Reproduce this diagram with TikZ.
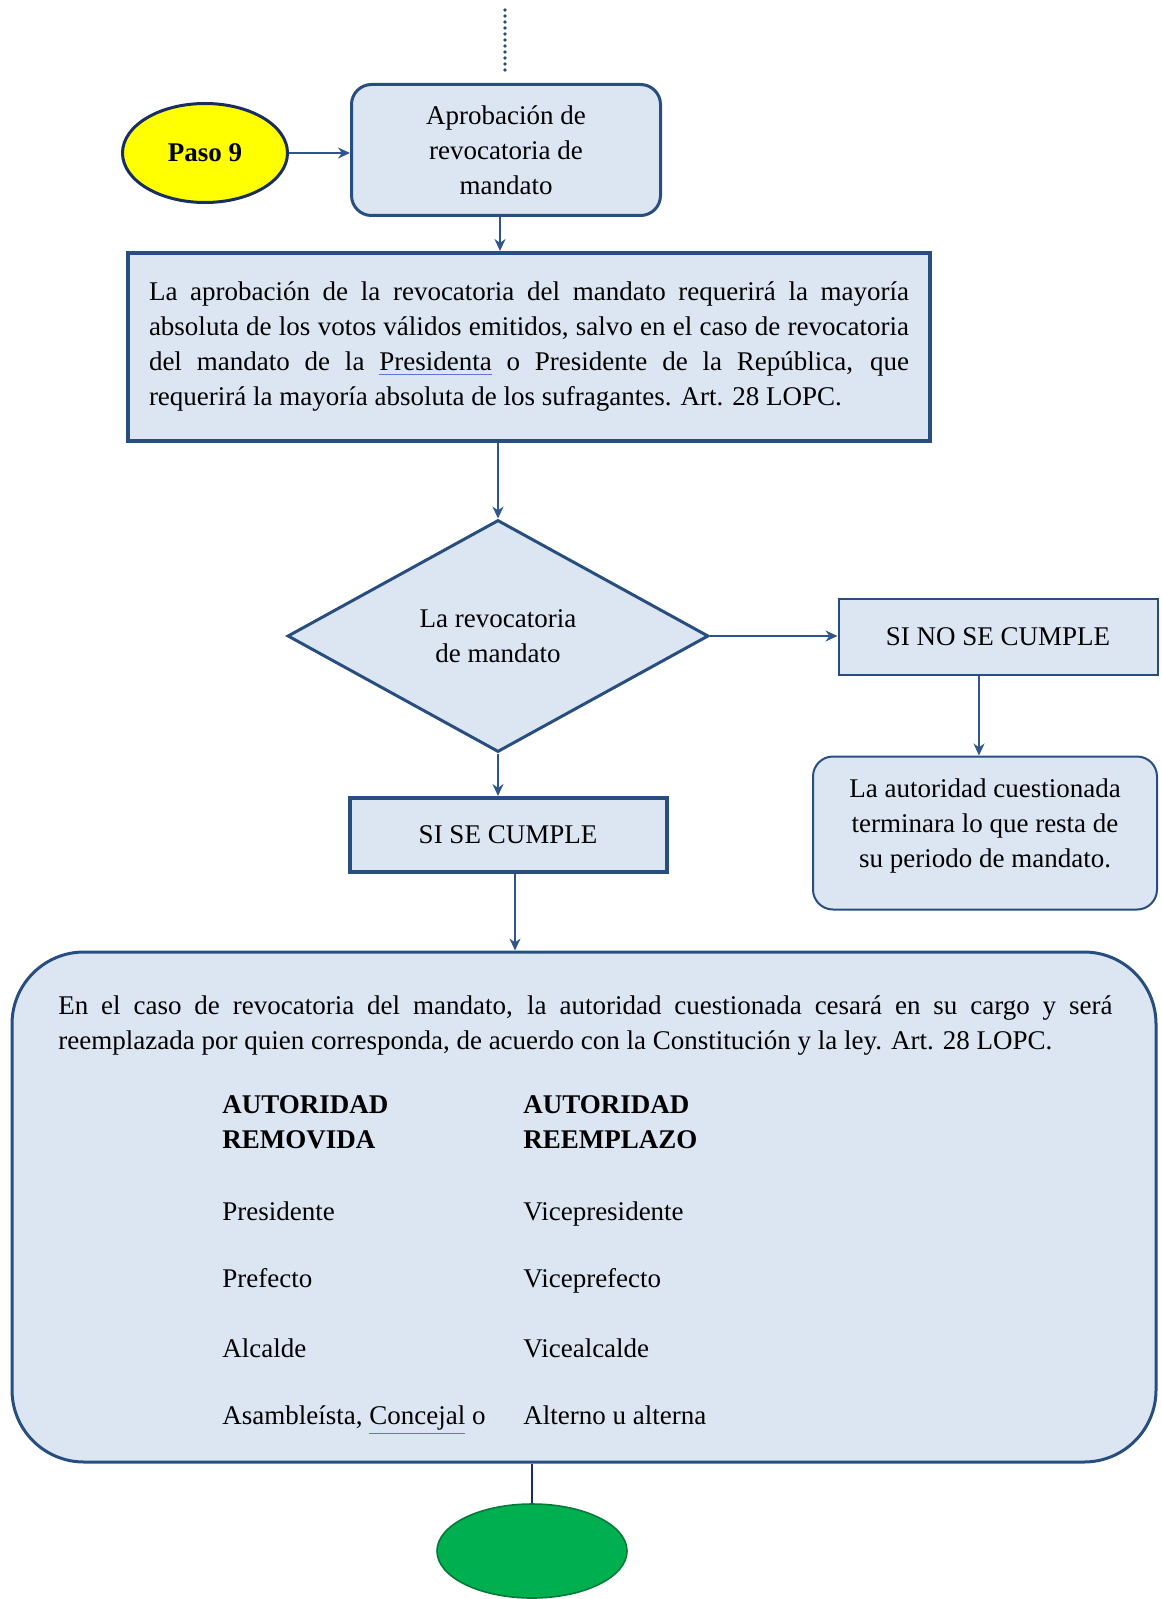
\documentclass[tikz,border=0pt]{standalone}
\usepackage{fontspec}
\setmainfont{Liberation Serif}
\usetikzlibrary{shapes.geometric, arrows.meta}
\definecolor{boxfill}{RGB}{220,230,242}
\definecolor{boxline}{RGB}{40,78,128}
\definecolor{arrowline}{RGB}{47,85,140}
\definecolor{endline}{RGB}{25,45,95}
\definecolor{spellblue}{RGB}{90,120,220}
\definecolor{stepyellow}{RGB}{255,255,0}
\definecolor{endgreen}{RGB}{0,176,80}
\newcommand{\spellmark}[1]{{\color{spellblue}\underline{\textcolor{black}{#1}}}}
\tikzset{
  flowtext/.style={font=\fontsize{13.5}{17.5}\selectfont},
  flowbox/.style={flowtext, draw=boxline, fill=boxfill, line width=1.5pt, align=center, inner sep=0pt},
  flowarrow/.style={draw=arrowline, line width=1.2pt, ->},
  celltext/.style={flowtext, anchor=mid west, inner sep=0pt},
  headtext/.style={flowtext, anchor=west, inner sep=0pt, align=left, font=\fontsize{13.5}{17.5}\selectfont\bfseries}
}
\begin{document}
\begin{tikzpicture}[x=0.5pt, y=-0.5pt, >={Stealth[length=6pt,width=5.5pt]}]
\useasboundingbox (0,0) rectangle (1161,1599);
% top part
\coordinate (dotA) at (505,10);
\coordinate (dotB) at (505,73);
\draw [draw=boxline, line width=1.8pt, line cap=round, dash pattern=on 0pt off 3pt] (dotA) -- (dotB);
\node [flowbox, ellipse, fill=stepyellow, draw=endline, minimum width=82.5pt, minimum height=49.5pt, font=\fontsize{13.5}{17.5}\selectfont\bfseries] (paso) at (205,153) {Paso 9};
\node [flowbox, rounded corners=10pt, minimum width=154.5pt, minimum height=65.5pt] (aprob) at (506,150) {Aprobación de\\revocatoria de\\mandato};
\node [flowbox, line width=2pt, minimum width=401pt, minimum height=94pt, text width=380pt, align=justify] (law) at (529,347) {La aprobación de la revocatoria del mandato requerirá la mayoría\linebreak absoluta de los votos válidos emitidos, salvo en el caso de revocatoria\linebreak del mandato de la \spellmark{Presidenta} o Presidente de la República, que\linebreak requerirá la mayoría absoluta de los sufragantes. Art. 28 LOPC.};
% decision
\node [flowbox, diamond, aspect=1.81, minimum width=210.5pt, minimum height=116pt] (revoca) at (498,636) {La revocatoria\\de mandato};
\node [flowbox, line width=1pt, minimum width=159.5pt, minimum height=38pt] (sino) at (998,637) {SI NO SE CUMPLE};
\node [flowbox, line width=1pt, rounded corners=10pt, minimum width=172pt, minimum height=76.5pt, text depth=10pt] (resta) at (985,833) {La autoridad cuestionada\\terminara lo que resta de\\su periodo de mandato.};
\node [flowbox, line width=2pt, minimum width=158.5pt, minimum height=37pt] (sise) at (508,835) {SI SE CUMPLE};
% replacement box
\node [flowbox, rounded corners=36pt, minimum width=572pt, minimum height=255pt] (cese) at (584,1207) {};
\node [flowtext, anchor=west, inner sep=0pt, text width=527pt, align=justify] (cesetxt) at (58,1026) {En el caso de revocatoria del mandato, la autoridad cuestionada cesará en su cargo y será\linebreak reemplazada por quien corresponda, de acuerdo con la Constitución y la ley. Art. 28 LOPC.};
\node [headtext] (headA) at (222,1122) {AUTORIDAD\\REMOVIDA};
\node [headtext] (headB) at (523,1122) {AUTORIDAD\\REEMPLAZO};
\node [celltext] (rowAa) at (222,1216) {Presidente};
\node [celltext] (rowAb) at (523,1216) {Vicepresidente};
\node [celltext] (rowBa) at (222,1283) {Prefecto};
\node [celltext] (rowBb) at (523,1283) {Viceprefecto};
\node [celltext] (rowCa) at (222,1353) {Alcalde};
\node [celltext] (rowCb) at (523,1353) {Vicealcalde};
\node [celltext] (rowDa) at (222,1420) {Asambleísta, \spellmark{Concejal} o};
\node [celltext] (rowDb) at (523,1420) {Alterno u alterna};
\node [ellipse, draw=endgreen!70!black, fill=endgreen, line width=0.8pt, minimum width=95pt, minimum height=47pt] (fin) at (532,1551) {};
% connectors
\draw [flowarrow] (paso.east) -- (paso.east -| aprob.west);
\draw [flowarrow] ([xshift=-3pt]aprob.south) -- ([xshift=-3pt]aprob.south |- law.north);
\draw [flowarrow] (revoca.north |- law.south) -- (revoca.north);
\draw [flowarrow] (revoca.east) -- (revoca.east -| sino.west);
\draw [flowarrow] ([xshift=-9.5pt]sino.south) -- ([xshift=-9.5pt]sino.south |- resta.north);
\draw [flowarrow] (revoca.south) -- (revoca.south |- sise.north);
\draw [flowarrow] ([xshift=3.5pt]sise.south) -- ([xshift=3.5pt]sise.south |- cese.north);
\draw [draw=endline, line width=1.2pt] (fin.north |- cese.south) -- (fin.north);
\end{tikzpicture}
\end{document}
